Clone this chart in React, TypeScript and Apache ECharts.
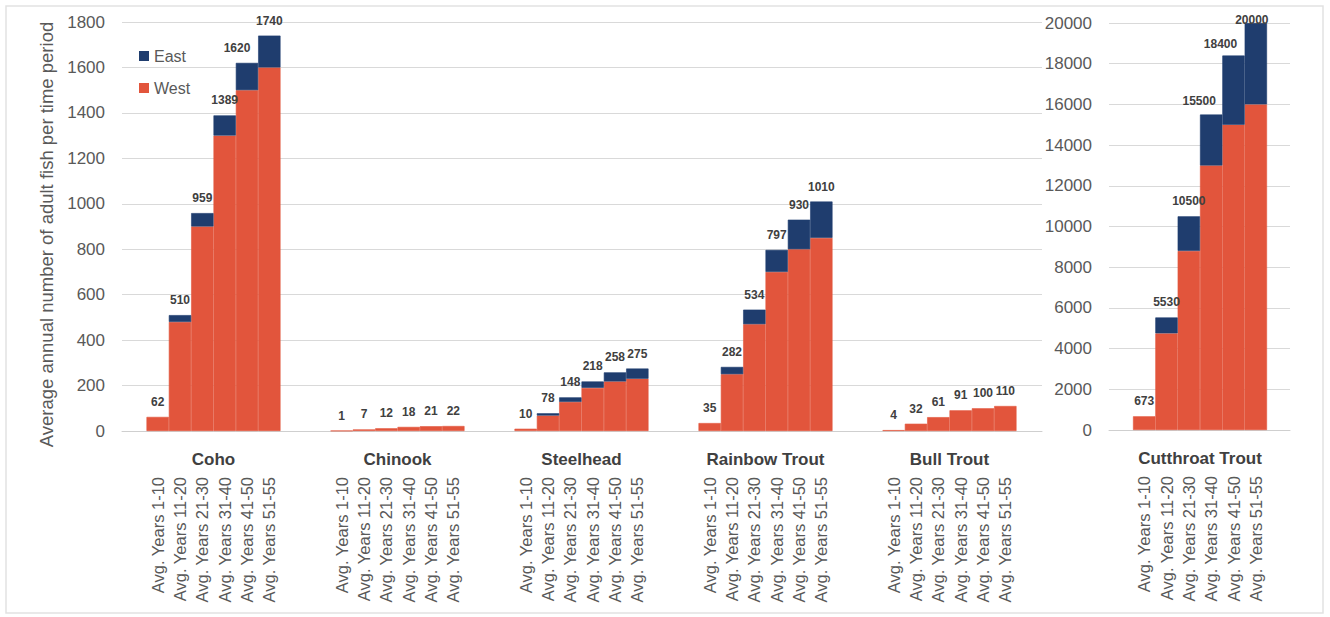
import React, { useEffect, useRef } from "react";
import * as echarts from "echarts";

// Time periods shown under every species group
const periods = [
  "Avg. Years 1-10",
  "Avg. Years 11-20",
  "Avg. Years 21-30",
  "Avg. Years 31-40",
  "Avg. Years 41-50",
  "Avg. Years 51-55",
];

const species = ["Coho", "Chinook", "Steelhead", "Rainbow Trout", "Bull Trout", "Cutthroat Trout"];

// Average annual adult fish, West / East populations
const cohoWest = [62, 480, 900, 1300, 1500, 1600];
const cohoEast = [0, 30, 59, 89, 120, 140];
const chinookWest = [1, 7, 12, 18, 21, 22];
const chinookEast = [0, 0, 0, 0, 0, 0];
const steelheadWest = [10, 68, 128, 190, 218, 230];
const steelheadEast = [0, 10, 20, 28, 40, 45];
const rainbowWest = [35, 250, 470, 700, 800, 850];
const rainbowEast = [0, 32, 64, 97, 130, 160];
const bullWest = [4, 32, 61, 91, 100, 110];
const bullEast = [0, 0, 0, 0, 0, 0];
const cutthroatWest = [673, 4750, 8800, 13000, 15000, 16000];
const cutthroatEast = [0, 780, 1700, 2500, 3400, 4000];

// Left axis ticks (first five species) and right axis ticks (Cutthroat Trout)
const leftTicks = { min: 0, max: 1800, step: 200 };
const rightTicks = { min: 0, max: 20000, step: 2000 };

const westSeries = [cohoWest, chinookWest, steelheadWest, rainbowWest, bullWest, cutthroatWest];
const eastSeries = [cohoEast, chinookEast, steelheadEast, rainbowEast, bullEast, cutthroatEast];

// Small horizontal/vertical nudges for crowded total labels
const labelNudges: Record<number, Record<number, [number, number]>> = {
  0: { 4: [-10, 0] },
  5: { 3: [-12, 1], 4: [-13, 3], 5: [-4, 12] },
};

const WEST_COLOR = "#E2553C";
const EAST_COLOR = "#1F3D6E";
const GRID_COLOR = "#d9d9d9";
const TEXT_COLOR = "#595959";
const FONT = "'Liberation Sans', Arial, sans-serif";

export default function App() {
  const ref = useRef<HTMLDivElement>(null);

  useEffect(() => {
    if (!ref.current) return;
    const chart = echarts.init(ref.current, undefined, { renderer: "svg" });

    const leftPlot = { left: 122, top: 22, width: 920, height: 409 };
    const rightPlot = { left: 1109, top: 23, width: 181, height: 407 };
    const groupStep = 184;
    const groupPad = 24.5;
    const groupWidth = 134;

    const grids: any[] = [];
    const xAxes: any[] = [];
    const yAxes: any[] = [];
    const series: any[] = [];

    const valueAxisLabel = {
      color: TEXT_COLOR,
      fontSize: 17,
      fontFamily: FONT,
      margin: 17,
      formatter: (v: number) => String(v),
    };

    // background panel for the left-axis species
    grids.push({ ...leftPlot });
    xAxes.push({
      type: "category",
      gridIndex: 0,
      data: [""],
      axisLine: { show: true, lineStyle: { color: "#cfcfcf", width: 1 } },
      axisTick: { show: false },
      axisLabel: { show: false },
    });
    yAxes.push({
      type: "value",
      gridIndex: 0,
      min: leftTicks.min,
      max: leftTicks.max,
      interval: leftTicks.step,
      axisLine: { show: false },
      axisTick: { show: false },
      axisLabel: valueAxisLabel,
      splitLine: { lineStyle: { color: GRID_COLOR, width: 1 } },
      name: "Average annual number of adult fish per time period",
      nameLocation: "middle",
      nameGap: 66,
      nameMoveOverlap: false,
      nameTextStyle: { color: TEXT_COLOR, fontSize: 18.5, fontFamily: FONT, padding: [0, 16, 0, 0] },
    });

    // background panel for Cutthroat Trout
    grids.push({ ...rightPlot });
    xAxes.push({
      type: "category",
      gridIndex: 1,
      data: [""],
      axisLine: { show: true, lineStyle: { color: "#cfcfcf", width: 1 } },
      axisTick: { show: false },
      axisLabel: { show: false },
    });
    yAxes.push({
      type: "value",
      gridIndex: 1,
      min: rightTicks.min,
      max: rightTicks.max,
      interval: rightTicks.step,
      axisLine: { show: false },
      axisTick: { show: false },
      axisLabel: valueAxisLabel,
      splitLine: { lineStyle: { color: GRID_COLOR, width: 1 } },
    });

    species.forEach((name, i) => {
      const isRight = i === 5;
      const plot = isRight ? rightPlot : leftPlot;
      const left = isRight ? 1133 : leftPlot.left + groupPad + i * groupStep;
      const ticks = isRight ? rightTicks : leftTicks;
      const gi = grids.length;
      grids.push({ left, top: plot.top, width: groupWidth, height: plot.height });
      xAxes.push({
        type: "category",
        gridIndex: gi,
        data: periods,
        axisLine: { show: false },
        axisTick: { show: false },
        axisLabel: {
          rotate: 90,
          margin: 46,
          color: TEXT_COLOR,
          fontSize: 16.5,
          fontFamily: FONT,
          interval: 0,
        },
        name,
        nameLocation: "middle",
        nameGap: 20,
        nameMoveOverlap: false,
        nameTextStyle: { color: "#404040", fontSize: 17, fontWeight: "bold", fontFamily: FONT },
      });
      yAxes.push({
        type: "value",
        gridIndex: gi,
        min: ticks.min,
        max: ticks.max,
        show: false,
      });

      const west = westSeries[i];
      const east = eastSeries[i];
      const nudges = labelNudges[i] || {};
      series.push({
        type: "bar",
        name: "West",
        xAxisIndex: gi,
        yAxisIndex: gi,
        stack: "s" + i,
        barWidth: "100%",
        itemStyle: { color: WEST_COLOR, borderColor: WEST_COLOR, borderWidth: 0.6 },
        data: west,
        silent: true,
      });
      series.push({
        type: "bar",
        name: "East",
        xAxisIndex: gi,
        yAxisIndex: gi,
        stack: "s" + i,
        barWidth: "100%",
        itemStyle: { color: EAST_COLOR, borderColor: EAST_COLOR, borderWidth: 0.6 },
        data: east.map((v, k) => {
          const item: any = { value: v };
          if (v === 0) item.itemStyle = { borderWidth: 0 };
          if (nudges[k]) item.label = { offset: nudges[k] };
          return item;
        }),
        label: {
          show: true,
          position: "top",
          distance: 9,
          color: "#404040",
          fontSize: 12,
          fontWeight: "bold",
          fontFamily: FONT,
          formatter: (p: any) => String(west[p.dataIndex] + east[p.dataIndex]),
        },
        silent: true,
      });
    });

    chart.setOption({
      animation: false,
      backgroundColor: "#ffffff",
      grid: grids,
      xAxis: xAxes,
      yAxis: yAxes,
      series,
      legend: {
        data: [
          { name: "East", icon: "rect", itemStyle: { borderWidth: 0 } },
          { name: "West", icon: "rect", itemStyle: { borderWidth: 0 } },
        ],
        orient: "vertical",
        left: 134,
        top: 43,
        itemWidth: 10,
        itemHeight: 10,
        itemGap: 16,
        textStyle: { color: TEXT_COLOR, fontSize: 16, fontFamily: FONT },
        selectedMode: false,
      },
      graphic: [
        {
          type: "rect",
          silent: true,
          z: -10,
          shape: { x: 6, y: 6, width: 1317, height: 607 },
          style: { fill: "none", stroke: "#e2e2e2", lineWidth: 1.5 },
        },
      ],
    });

    return () => {
      chart.dispose();
    };
  }, []);

  return (
    <div
      ref={ref}
      style={{ position: "absolute", left: 0, top: 0, width: 1330, height: 617 }}
    />
  );
}
